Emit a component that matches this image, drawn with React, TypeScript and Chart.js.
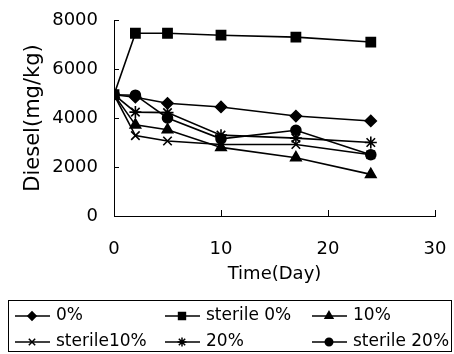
import React, { useEffect, useRef } from 'react';
import { Chart, registerables } from 'chart.js';
import { drawPoint } from 'chart.js/helpers';

Chart.register(...registerables);

const days = [0, 2, 5, 10, 17, 24];
const seriesLabels = ['0%', 'sterile 0%', '10%', 'sterile10%', '20%', 'sterile 20%'];
const pct0 = [4950, 4850, 4600, 4450, 4080, 3880];
const sterile0 = [4950, 7460, 7460, 7380, 7300, 7100];
const pct10 = [4950, 3720, 3520, 2800, 2380, 1700];
const sterile10 = [4950, 3280, 3060, 2920, 2920, 2500];
const pct20 = [4950, 4240, 4220, 3300, 3180, 3000];
const sterile20 = [4950, 4930, 4000, 3150, 3500, 2500];
const xTickValues = [0, 10, 20, 30];
const yTickValues = [0, 2000, 4000, 6000, 8000];

const seriesValues = [pct0, sterile0, pct10, sterile10, pct20, sterile20];
const pointStyles = ['rectRot', 'rect', 'triangle', 'crossRot', 'star', 'circle'];
const pointRadii = [5.5, 6.5, 6, 6, 6, 5];

const FONT = 'DejaVu Sans';

const inwardTicks = {
  id: 'inwardTicks',
  afterDraw(chart: any) {
    const { ctx, chartArea, scales } = chart;
    ctx.save();
    ctx.strokeStyle = '#000';
    ctx.lineWidth = 1;
    ctx.beginPath();
    yTickValues.forEach((v) => {
      if (v === 0) return;
      const y = Math.round(scales.y.getPixelForValue(v)) + 0.5;
      ctx.moveTo(chartArea.left, y);
      ctx.lineTo(chartArea.left + 5, y);
    });
    xTickValues.forEach((v) => {
      if (v === 0) return;
      const x = Math.round(scales.x.getPixelForValue(v)) + 0.5;
      ctx.moveTo(x, chartArea.bottom);
      ctx.lineTo(x, chartArea.bottom - 6);
    });
    ctx.stroke();
    ctx.restore();
  },
};

const boxLegend = {
  id: 'boxLegend',
  afterDraw(chart: any) {
    const { ctx } = chart;
    const boxL = 8.5, boxT = 300.5, boxR = 451.5, boxB = 351.5;
    const rows = [316, 342];
    const cols = [15, 165, 312];
    ctx.save();
    ctx.strokeStyle = '#000';
    ctx.lineWidth = 1;
    ctx.strokeRect(boxL, boxT, boxR - boxL, boxB - boxT);
    chart.data.datasets.forEach((ds: any, i: number) => {
      const y = rows[Math.floor(i / 3)];
      const x0 = cols[i % 3];
      ctx.strokeStyle = '#000';
      ctx.lineWidth = 1.5;
      ctx.beginPath();
      ctx.moveTo(x0, y);
      ctx.lineTo(x0 + 35, y);
      ctx.stroke();
      ctx.fillStyle = '#000';
      ctx.lineWidth = 1.5;
      drawPoint(ctx, { pointStyle: ds.pointStyle, radius: ds.pointRadius * 0.75, rotation: 0, borderWidth: 1.5 }, x0 + 17, y);
      ctx.fillStyle = '#000';
      ctx.font = `17px "${FONT}"`;
      ctx.textAlign = 'left';
      ctx.textBaseline = 'middle';
      ctx.fillText(ds.label, x0 + 41, y);
    });
    ctx.restore();
  },
};

export default function App() {
  const canvasRef = useRef<HTMLCanvasElement | null>(null);

  useEffect(() => {
    if (!canvasRef.current) return;
    const datasets = seriesLabels.map((label, i) => ({
      label,
      data: days.map((d, j) => ({ x: d, y: seriesValues[i][j] })),
      borderColor: '#000',
      backgroundColor: '#000',
      borderWidth: 1.6,
      pointStyle: pointStyles[i],
      pointRadius: pointRadii[i],
      pointBorderWidth: 1.6,
      pointBackgroundColor: '#000',
      pointBorderColor: '#000',
      tension: 0,
      fill: false,
    }));
    const zeroPad = (s: any) => {
      s.paddingLeft = 0;
      s.paddingRight = 0;
      s.paddingTop = 0;
      s.paddingBottom = 0;
    };
    const chart = new Chart(canvasRef.current, {
      type: 'line',
      data: { datasets },
      plugins: [inwardTicks, boxLegend],
      options: {
        animation: false,
        responsive: false,
        layout: { padding: { left: 0, top: 20, right: 19, bottom: 0 } },
        plugins: { legend: { display: false }, tooltip: { enabled: false } },
        scales: {
          x: {
            type: 'linear',
            min: 0,
            max: 30,
            afterBuildTicks: (s: any) => { s.ticks = xTickValues.map((v) => ({ value: v })); },
            afterFit: (s: any) => { s.height = 138; zeroPad(s); },
            ticks: { color: '#000', font: { family: FONT, size: 18 }, padding: 23, callback: (v: any) => String(v) },
            grid: { display: true, drawOnChartArea: false, drawTicks: false },
            border: { display: true, color: '#000', width: 1 },
            title: {
              display: true,
              text: 'Time(Day)',
              color: '#000',
              font: { family: FONT, size: 18 },
              padding: { top: 0, bottom: 69 },
            },
          },
          y: {
            type: 'linear',
            min: 0,
            max: 8000,
            afterBuildTicks: (s: any) => { s.ticks = yTickValues.map((v) => ({ value: v })); },
            afterFit: (s: any) => { s.width = 114; zeroPad(s); },
            ticks: { color: '#000', font: { family: FONT, size: 18 }, padding: 16, callback: (v: any) => String(v) },
            grid: { display: true, drawOnChartArea: false, drawTicks: false },
            border: { display: true, color: '#000', width: 1 },
            title: {
              display: true,
              text: 'Diesel(mg/kg)',
              color: '#000',
              font: { family: FONT, size: 21 },
              padding: { top: 21, bottom: 0 },
            },
          },
        },
      },
    });
    return () => chart.destroy();
  }, []);

  return (
    <div style={{ position: 'absolute', left: 0, top: 0, width: 454, height: 354, background: '#fff' }}>
      <canvas ref={canvasRef} width={454} height={354} style={{ display: 'block' }} />
    </div>
  );
}
